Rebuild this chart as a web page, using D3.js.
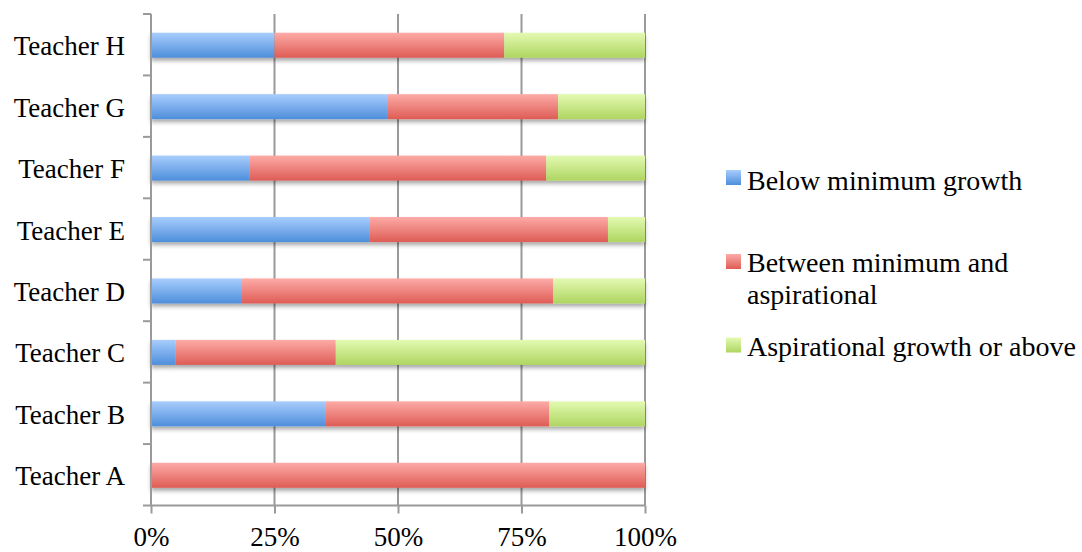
<!DOCTYPE html>
<html><head><meta charset="utf-8">
<script src="https://cdn.jsdelivr.net/npm/d3@7"></script>
<style>body{margin:0;background:#fff}svg{display:block}</style>
</head><body><svg id="c" width="1082" height="552"></svg>
<script>
const categories = ["Teacher H","Teacher G","Teacher F","Teacher E","Teacher D","Teacher C","Teacher B","Teacher A"];
const seriesNames = ["Below minimum growth","Between minimum and aspirational","Aspirational growth or above"];
const below   = [25.0, 47.8, 20.0, 44.3, 18.4, 5.0, 35.4, 0];
const between = [46.5, 34.6, 60.0, 48.2, 63.0, 32.4, 45.2, 100];
const above   = [28.5, 17.6, 20.0, 7.5, 18.6, 62.6, 19.4, 0];
const xTicks = [0, 25, 50, 75, 100];
const xTickLabels = ["0%","25%","50%","75%","100%"];

const svg = d3.select("#c");
const font = "'Liberation Serif', serif";
const x = d3.scaleLinear().domain([0,100]).range([151,645]);
const y = d3.scaleBand().domain(categories).range([14,505.5]).padding(0);
const barH = 25;

const defs = svg.append("defs");
const grads = [["#a8cdfd","#4e8edb"],["#fdaba7","#de5c55"],["#e3fab2","#afd561"]];
grads.forEach((g,i)=>{
  const lg = defs.append("linearGradient").attr("id","g"+i).attr("x1",0).attr("y1",0).attr("x2",0).attr("y2",1);
  lg.append("stop").attr("offset","0%").attr("stop-color",g[0]);
  lg.append("stop").attr("offset","100%").attr("stop-color",g[1]);
});
const f = defs.append("filter").attr("id","sh").attr("x","-5%").attr("y","-30%").attr("width","110%").attr("height","180%");
f.append("feDropShadow").attr("dx",0).attr("dy",3).attr("stdDeviation",2).attr("flood-color","#000").attr("flood-opacity",0.35);

// gridlines
svg.append("g").selectAll("line").data(xTicks.slice(1)).join("line")
  .attr("x1",d=>x(d)).attr("x2",d=>x(d)).attr("y1",14).attr("y2",505.5)
  .attr("stroke","#9a9a9a").attr("stroke-width",2);

// data table
const rows = categories.map((c,i)=>({cat:c, s0:below[i], s1:between[i], s2:above[i]}));
const stack = d3.stack().keys(["s0","s1","s2"])(rows);

const gBars = svg.append("g").attr("filter","url(#sh)");
stack.forEach((layer,i)=>{
  gBars.append("g").selectAll("rect").data(layer.filter(d=>d[1]-d[0]>0)).join("rect")
    .attr("x",d=>x(d[0])).attr("width",d=>x(d[1])-x(d[0]))
    .attr("y",d=>y(d.data.cat)+y.bandwidth()/2-barH/2+0.5).attr("height",barH)
    .attr("fill","url(#g"+i+")");
});

// y axis
svg.append("line").attr("x1",151).attr("x2",151).attr("y1",14).attr("y2",505.5).attr("stroke","#9a9a9a").attr("stroke-width",2);
const bounds = categories.map(c=>y(c)).concat([505.5]);
svg.append("g").selectAll("line").data(bounds).join("line")
  .attr("x1",143).attr("x2",151).attr("y1",d=>d).attr("y2",d=>d).attr("stroke","#9a9a9a").attr("stroke-width",2);
svg.append("g").selectAll("text").data(categories).join("text")
  .attr("x",125).attr("y",d=>y(d)+y.bandwidth()/2+10.5).attr("text-anchor","end")
  .attr("font-family",font).attr("font-size",27).attr("fill","#000").text(d=>d);

// x axis
const xAxis = d3.axisBottom(x).tickValues(xTicks).tickSize(8).tickFormat((d,i)=>xTickLabels[i]);
const xa = svg.append("g").attr("transform","translate(0,505.5)").call(xAxis);
xa.select(".domain").attr("stroke","#9a9a9a").attr("stroke-width",2).attr("d","M151,0H645");
xa.selectAll(".tick line").attr("stroke","#9a9a9a").attr("stroke-width",2);
xa.selectAll(".tick text").attr("y",40.5).attr("dy",0).attr("font-family",font).attr("font-size",27).attr("fill","#000");

// legend
const legend = [
  {i:0, sq:170, lines:["Below minimum growth"], base:189.5},
  {i:1, sq:254, lines:["Between minimum and","aspirational"], base:272},
  {i:2, sq:337.5, lines:["Aspirational growth or above"], base:355.5}
];
legend.forEach(l=>{
  svg.append("rect").attr("x",726).attr("y",l.sq).attr("width",15).attr("height",15).attr("fill","url(#g"+l.i+")");
  const t = svg.append("text").attr("font-family",font).attr("font-size",28).attr("fill","#000");
  l.lines.forEach((s,k)=>t.append("tspan").attr("x",747).attr("y",l.base+k*31.5).text(s));
});
</script></body></html>
